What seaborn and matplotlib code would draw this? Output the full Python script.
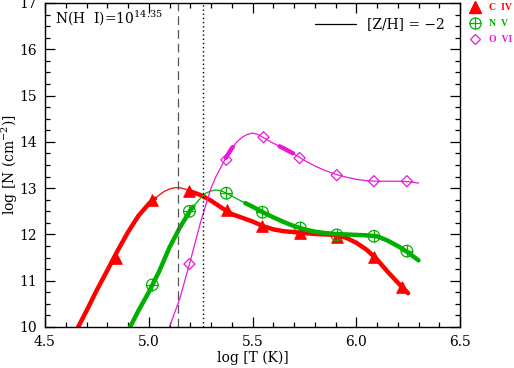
import numpy as np
import pandas as pd
import seaborn as sns
import matplotlib.pyplot as plt
from matplotlib.ticker import MultipleLocator

# model curves (log T, log N)
civ_t = [4.66, 4.70, 4.75, 4.80, 4.85, 4.90, 4.95, 5.00, 5.05, 5.075, 5.10, 5.125, 5.15, 5.175,
         5.20, 5.25, 5.30, 5.35, 5.40, 5.45, 5.50, 5.55, 5.60, 5.65, 5.70, 5.75, 5.80, 5.85,
         5.90, 5.95, 6.00, 6.05, 6.10, 6.15, 6.20, 6.25]
civ_n = [10.0, 10.35, 10.8, 11.22, 11.65, 12.05, 12.4, 12.66, 12.85, 12.93, 12.98, 13.01, 13.01, 12.98,
         12.93, 12.85, 12.73, 12.58, 12.44, 12.36, 12.28, 12.18, 12.11, 12.07, 12.05, 12.03, 12.01, 12.0,
         11.99, 11.93, 11.82, 11.67, 11.46, 11.2, 10.96, 10.73]

nv_t = [4.91, 4.95, 5.00, 5.05, 5.10, 5.15, 5.20, 5.25, 5.275, 5.30, 5.325, 5.35, 5.375, 5.40,
        5.45, 5.50, 5.55, 5.60, 5.65, 5.70, 5.75, 5.80, 5.85, 5.90, 5.95, 6.00, 6.05, 6.10,
        6.15, 6.20, 6.25, 6.30]
nv_n = [10.0, 10.35, 10.75, 11.2, 11.72, 12.15, 12.52, 12.79, 12.89, 12.94, 12.96, 12.94, 12.89, 12.83,
        12.71, 12.6, 12.48, 12.37, 12.27, 12.18, 12.11, 12.06, 12.03, 12.01, 12.0, 11.99, 11.98, 11.96,
        11.87, 11.75, 11.61, 11.44]

ovi_t = [5.10, 5.15, 5.20, 5.25, 5.30, 5.325, 5.35, 5.375, 5.40, 5.425, 5.45, 5.475, 5.50, 5.525,
         5.55, 5.60, 5.65, 5.70, 5.75, 5.80, 5.85, 5.90, 5.95, 6.00, 6.05, 6.10, 6.15, 6.20,
         6.25, 6.30]
ovi_n = [10.0, 10.62, 11.42, 12.27, 13.0, 13.26, 13.47, 13.68, 13.86, 14.0, 14.1, 14.16, 14.19, 14.16,
         14.1, 13.97, 13.86, 13.74, 13.6, 13.48, 13.38, 13.3, 13.24, 13.19, 13.16, 13.15, 13.15, 13.15,
         13.14, 13.11]

# marked points
civ_pt_t = [4.843, 5.017, 5.196, 5.379, 5.548, 5.73, 5.906, 6.085, 6.22]
civ_pt_n = [11.49, 12.74, 12.94, 12.53, 12.18, 12.03, 11.94, 11.51, 10.86]
nv_pt_t = [5.017, 5.196, 5.374, 5.548, 5.73, 5.906, 6.085, 6.244]
nv_pt_n = [10.91, 12.5, 12.89, 12.48, 12.14, 11.99, 11.96, 11.64]
ovi_pt_t = [5.196, 5.374, 5.553, 5.727, 5.906, 6.085, 6.244]
ovi_pt_n = [11.36, 13.61, 14.1, 13.65, 13.28, 13.15, 13.15]

# ranges drawn thick
civ_thick = [(4.60, 5.03), (5.20, 6.30)]
nv_thick = [(4.90, 5.215), (5.465, 6.35)]
ovi_thick = [(5.372, 5.405), (5.63, 5.695)]

t_dashed = 5.14
t_dotted = 5.26

RED = "#ff0000"
GREEN = "#00b000"
MAGENTA = "#e81ad8"

sns.set_style("ticks", {"axes.edgecolor": "black", "xtick.color": "black",
                        "ytick.color": "black", "text.color": "black",
                        "axes.labelcolor": "black"})
plt.rcParams["font.family"] = ["DejaVu Serif"]
plt.rcParams["mathtext.fontset"] = "dejavuserif"

fig = plt.figure(figsize=(5.14, 3.68), dpi=100)
ax = fig.add_axes([45 / 514, 41 / 368, 415 / 514, 324 / 368])


def draw_curve(t, n, thick, color):
    df = pd.DataFrame({"t": t, "n": n})
    sns.lineplot(data=df, x="t", y="n", color=color, lw=0.9, sort=False, ax=ax)
    for lo, hi in thick:
        # include the end points of the segment so it joins smoothly
        seg = df[(df.t >= lo) & (df.t <= hi)]
        pts = pd.DataFrame({"t": [lo, hi], "n": np.interp([lo, hi], df.t, df.n)})
        seg = pd.concat([seg, pts]).sort_values("t")
        seg = seg[(seg.t >= df.t.min()) & (seg.t <= df.t.max())]
        sns.lineplot(data=seg, x="t", y="n", color=color, lw=3.2, sort=False, ax=ax)


draw_curve(civ_t, civ_n, civ_thick, RED)
draw_curve(nv_t, nv_n, nv_thick, GREEN)
draw_curve(ovi_t, ovi_n, ovi_thick, MAGENTA)

ax.axvline(t_dashed, color="#555555", lw=0.9, ls=(0, (7, 4)))
ax.axvline(t_dotted, color="black", lw=1.0, ls=(0, (1, 2)))

sns.scatterplot(x=civ_pt_t, y=civ_pt_n, marker="^", s=70, color=RED, edgecolor=RED, ax=ax)
sns.scatterplot(x=nv_pt_t, y=nv_pt_n, marker="o", s=70, facecolor="none", edgecolor=GREEN,
                linewidth=0.9, ax=ax)
sns.scatterplot(x=nv_pt_t, y=nv_pt_n, marker="+", s=70, color=GREEN, linewidth=0.9, ax=ax)
sns.scatterplot(x=ovi_pt_t, y=ovi_pt_n, marker="D", s=32, facecolor="none", edgecolor=MAGENTA,
                linewidth=0.9, ax=ax)

ax.set_xlim(4.5, 6.5)
ax.set_ylim(10, 17)
ax.xaxis.set_major_locator(MultipleLocator(0.5))
ax.xaxis.set_minor_locator(MultipleLocator(0.1))
ax.yaxis.set_major_locator(MultipleLocator(1))
ax.yaxis.set_minor_locator(MultipleLocator(0.25))
ax.set_xticklabels([f"{v:.1f}" for v in ax.get_xticks()])
ax.tick_params(which="both", direction="in", top=True, right=True, labelsize=10, width=0.9)
ax.tick_params(which="major", length=7, pad=6)
ax.tick_params(which="minor", length=3.5)
for sp in ax.spines.values():
    sp.set_linewidth(1.0)

ax.set_xlabel("log [T (K)]", fontsize=10, labelpad=1)
ax.set_ylabel("log [N (cm$^{-2}$)]", fontsize=10, va="center")
ax.yaxis.set_label_coords(-0.084, 0.5)

ax.text(0.024, 0.955, "N(H  I)=10$^{14.35}$", transform=ax.transAxes, fontsize=10,
        ha="left", va="center")
ax.plot([0.65, 0.75], [0.935, 0.935], transform=ax.transAxes, color="black", lw=0.9)
ax.text(0.775, 0.935, "[Z/H] = \u22122", transform=ax.transAxes, fontsize=10,
        ha="left", va="center")

# legend outside on the right
leg_y = [7, 23, 39]
leg_lab = ["C  IV", "N  V", "O  VI"]
leg_col = [RED, GREEN, MAGENTA]
for yy, lab, col in zip(leg_y, leg_lab, leg_col):
    fig.text(489 / 514, 1 - yy / 368, lab, color=col, fontsize=7, fontweight="bold",
             family=["Liberation Serif"], ha="left", va="center")
lx, ly = 475 / 514, [1 - y / 368 for y in leg_y]
fig.add_artist(plt.Line2D([lx], [ly[0]], marker="^", ms=8, color=RED, transform=fig.transFigure))
fig.add_artist(plt.Line2D([lx], [ly[1]], marker="o", ms=8, mfc="none", mec=GREEN, mew=0.9,
                          transform=fig.transFigure))
fig.add_artist(plt.Line2D([lx], [ly[1]], marker="+", ms=8, mec=GREEN, mew=0.9,
                          transform=fig.transFigure))
fig.add_artist(plt.Line2D([lx], [ly[2]], marker="D", ms=5.5, mfc="none", mec=MAGENTA, mew=0.9,
                          transform=fig.transFigure))

fig.savefig("out.png", dpi=100)
